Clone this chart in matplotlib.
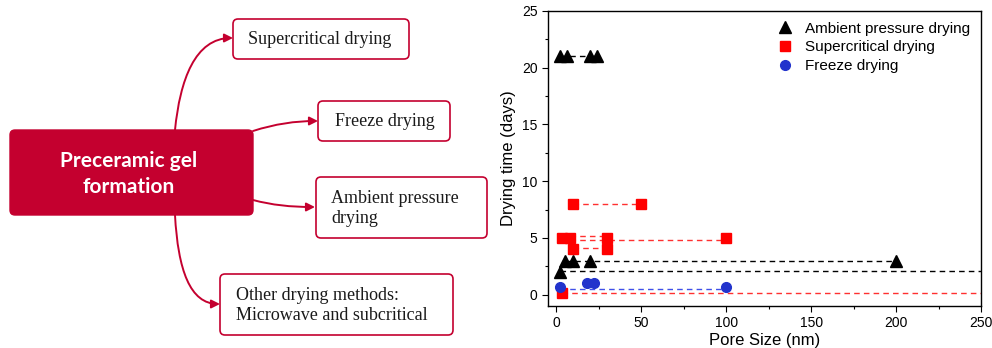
import matplotlib
matplotlib.use('agg')
import matplotlib.pyplot as plt
from matplotlib.patches import FancyBboxPatch, FancyArrowPatch
from matplotlib.path import Path
from matplotlib.ticker import MultipleLocator

# scatter data
ambient_x = [2, 6, 20, 24, 5, 10, 20, 200, 2]
ambient_y = [21, 21, 21, 21, 3, 3, 3, 3, 2]
super_x = [10, 50, 3, 8, 30, 100, 10, 30, 3]
super_y = [8, 8, 5, 5, 5, 5, 4, 4, 0.15]
freeze_x = [2, 18, 22, 100]
freeze_y = [0.7, 1.0, 1.0, 0.7]

# dashed range lines: (x start, x end, y)
ambient_ranges = [(2, 24, 21), (5, 200, 2.95), (2, 250, 2.1)]
super_ranges = [(10, 50, 8), (8, 30, 5.15), (8, 100, 4.85), (10, 30, 4.1), (3, 250, 0.12)]
freeze_ranges = [(2, 100, 0.5)]

labels = ['Ambient pressure drying', 'Supercritical drying', 'Freeze drying']

# diagram texts
main_text = 'Preceramic gel\nformation'
box_texts = ['Supercritical drying', 'Freeze drying', 'Ambient pressure\ndrying',
             'Other drying methods:\nMicrowave and subcritical']

RED = '#c4002f'

fig = plt.figure(figsize=(9.92, 3.48), dpi=100)

# ---- left diagram, in pixel coords
dax = fig.add_axes([0, 0, 1, 1])
dax.set_xlim(0, 992)
dax.set_ylim(348, 0)
dax.axis('off')

def rbox(x0, y0, x1, y1, fc, ec, lw):
    p = FancyBboxPatch((x0, y0), x1 - x0, y1 - y0,
                       boxstyle='round,pad=0,rounding_size=5',
                       fc=fc, ec=ec, lw=lw)
    dax.add_patch(p)

rbox(10, 130, 253, 215, RED, RED, 1)
dax.text(129, 174, main_text, color='white', fontsize=15, fontweight='bold',
         family='Lato', ha='center', va='center', linespacing=1.4)

boxes = [(233, 19, 409, 59), (318, 101, 450, 141), (316, 177, 487, 238), (220, 274, 453, 335)]
text_x = [248, 335, 331, 236]
for (x0, y0, x1, y1), t, tx in zip(boxes, box_texts, text_x):
    rbox(x0, y0, x1, y1, 'white', RED, 1.2)
    dax.text(tx, (y0 + y1) / 2 + 1, t, fontsize=13, family='Liberation Serif',
             ha='left', va='center', color='#1a1a1a', linespacing=1.2)

curves = [
    [(175, 130), (180, 80), (195, 38), (233, 38)],
    [(253, 131), (275, 124), (295, 121), (318, 121)],
    [(253, 200), (272, 205), (290, 207), (315, 207)],
    [(175, 215), (178, 270), (190, 304), (220, 304)],
]
for c in curves:
    path = Path(c, [Path.MOVETO, Path.CURVE4, Path.CURVE4, Path.CURVE4])
    a = FancyArrowPatch(path=path, arrowstyle='-|>,head_length=5,head_width=2.5',
                        color=RED, lw=1.4)
    dax.add_patch(a)

# ---- right chart
plt.rcParams['font.family'] = ['Liberation Sans', 'DejaVu Sans']
ax = fig.add_axes([548 / 992, 42 / 348, 433 / 992, 295 / 348])

for x0, x1, y in ambient_ranges:
    ax.plot([x0, x1], [y, y], ls=(0, (4, 3)), color='black', lw=1, zorder=1)
for x0, x1, y in super_ranges:
    ax.plot([x0, x1], [y, y], ls=(0, (4, 3)), color='#ff3030', lw=1, zorder=1)
for x0, x1, y in freeze_ranges:
    ax.plot([x0, x1], [y, y], ls=(0, (4, 3)), color='#4050e8', lw=1, zorder=1)

ax.plot(ambient_x, ambient_y, '^', color='black', ms=8.5, ls='none', label=labels[0], zorder=3)
ax.plot(super_x, super_y, 's', color='#ff0000', ms=6.5, ls='none', label=labels[1], zorder=3)
ax.plot(freeze_x, freeze_y, 'o', color='#2233cc', ms=7, ls='none', label=labels[2], zorder=3)

ax.set_xlim(-5, 250)
ax.set_ylim(-1, 25)
ax.xaxis.set_major_locator(MultipleLocator(50))
ax.xaxis.set_minor_locator(MultipleLocator(25))
ax.yaxis.set_major_locator(MultipleLocator(5))
ax.yaxis.set_minor_locator(MultipleLocator(2.5))
ax.tick_params(which='major', direction='out', length=4, labelsize=10, width=0.8)
ax.tick_params(which='minor', direction='out', length=2.5, width=0.8)
for s in ax.spines.values():
    s.set_linewidth(1)

ax.set_xlabel('Pore Size (nm)', fontsize=12, labelpad=2)
ax.set_ylabel('Drying time (days)', fontsize=12, labelpad=4)

ax.legend(loc='upper right', frameon=False, fontsize=11, handletextpad=0.6,
          labelspacing=0.3, borderaxespad=0.3, handlelength=1.4)

plt.savefig('out.png', dpi=100)
